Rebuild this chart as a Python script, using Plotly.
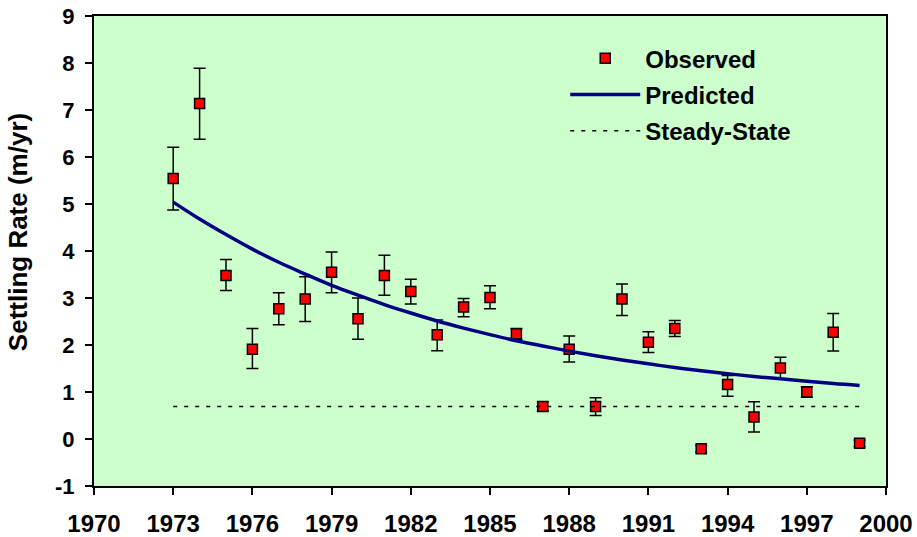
import plotly.graph_objects as go

# Observed settling rates (m/yr) with error bars
obs_years = [1973, 1974, 1975, 1976, 1977, 1978, 1979, 1980, 1981, 1982, 1983, 1984, 1985,
             1986, 1987, 1988, 1989, 1990, 1991, 1992, 1993, 1994, 1995, 1996, 1997, 1998, 1999]
obs_values = [5.54, 7.14, 3.48, 1.91, 2.77, 2.98, 3.55, 2.56, 3.48, 3.14, 2.22, 2.81, 3.01,
              2.24, 0.69, 1.91, 0.69, 2.98, 2.06, 2.35, -0.21, 1.16, 0.47, 1.51, 1.00, 2.27, -0.09]
err_plus = [0.67, 0.75, 0.34, 0.44, 0.34, 0.47, 0.43, 0.44, 0.43, 0.26, 0.31, 0.18, 0.25,
            0.11, 0.10, 0.28, 0.19, 0.32, 0.22, 0.17, 0.07, 0.19, 0.32, 0.23, 0.11, 0.40, 0.07]
err_minus = [0.67, 0.76, 0.32, 0.41, 0.34, 0.48, 0.44, 0.44, 0.42, 0.27, 0.34, 0.21, 0.24,
             0.12, 0.09, 0.27, 0.19, 0.35, 0.22, 0.17, 0.07, 0.25, 0.32, 0.23, 0.11, 0.40, 0.07]

# Predicted curve
pred_years = list(range(1973, 2000))
pred_values = [5.04, 4.68, 4.35, 4.04, 3.76, 3.51, 3.27, 3.06, 2.86, 2.68, 2.51, 2.36, 2.22,
               2.09, 1.98, 1.87, 1.77, 1.68, 1.60, 1.52, 1.45, 1.39, 1.33, 1.28, 1.23, 1.18, 1.14]

# Steady state
ss_years = [1973, 1999]
ss_values = [0.69, 0.69]

x_ticks = [1970, 1973, 1976, 1979, 1982, 1985, 1988, 1991, 1994, 1997, 2000]
x_labels = [str(v) for v in x_ticks]
y_ticks = [-1, 0, 1, 2, 3, 4, 5, 6, 7, 8, 9]
y_labels = ["-1", "0", "1", "2", "3", "4", "5", "6", "7", "8", "9"]
y_title = "Settling Rate (m/yr)"

FONT = "Arial, 'Liberation Sans', sans-serif"

fig = go.Figure()
fig.add_trace(go.Scatter(
    x=obs_years, y=obs_values, mode="markers", name="Observed", legendgroup="a",
    marker=dict(symbol="square", size=10, color="#FF0000", line=dict(color="black", width=1.5)),
    error_y=dict(type="data", symmetric=False, array=err_plus, arrayminus=err_minus,
                 color="black", thickness=1.5, width=6),
))
fig.add_trace(go.Scatter(
    x=pred_years, y=pred_values, mode="lines", name="Predicted", legendgroup="b",
    line=dict(color="#000080", width=3.5, shape="spline"),
))
fig.add_trace(go.Scatter(
    x=ss_years, y=ss_values, mode="lines", name="Steady-State", legendgroup="c",
    line=dict(color="black", width=1.5, dash="4px,7px"),
))

fig.add_annotation(
    text=y_title, textangle=-90, xref="paper", yref="paper",
    x=-0.096, y=0.54, xanchor="center", yanchor="middle", showarrow=False,
    font=dict(size=26, weight="bold", color="black"),
)

fig.update_layout(
    width=917, height=537,
    margin=dict(l=94, r=31, t=16, b=51, autoexpand=False),
    paper_bgcolor="white", plot_bgcolor="#CCFFCC",
    font=dict(family=FONT, size=22, color="black", weight="bold"),
    showlegend=True,
    legend=dict(x=0.595, y=0.957, xanchor="left", yanchor="top",
                bgcolor="rgba(0,0,0,0)", font=dict(size=24, weight="bold"),
                itemwidth=70, tracegroupgap=2, traceorder="grouped"),
    xaxis=dict(range=[1970, 2000], tickvals=x_ticks, ticktext=x_labels, ticks="outside",
               ticklen=7, tickwidth=2, tickcolor="black", showline=True, linecolor="black",
               linewidth=2, mirror=True, showgrid=False, zeroline=False, automargin=False,
               ticklabelstandoff=8, tickfont=dict(size=24, weight="bold")),
    yaxis=dict(range=[-1, 9], tickvals=y_ticks, ticktext=y_labels, ticks="outside",
               ticklen=7, tickwidth=2, tickcolor="black", showline=True, linecolor="black",
               linewidth=2, mirror=True, showgrid=False, zeroline=False, automargin=False,
               ticklabelstandoff=6, tickfont=dict(size=22, weight="bold")),
)

fig.write_html("out.html")
